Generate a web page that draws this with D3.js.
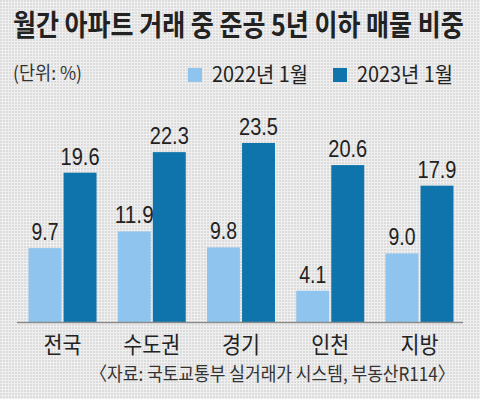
<!DOCTYPE html>
<html>
<head>
<meta charset="utf-8">
<script src="https://cdn.jsdelivr.net/npm/d3@7"></script>
<style>
  html, body { margin: 0; padding: 0; background: #ebebeb; }
  svg { display: block; }
</style>
</head>
<body>
<svg class="chart"></svg>
<script>
var width = 480,
    height = 399;

// data
var categories = ["전국", "수도권", "경기", "인천", "지방"];
var seriesNames = ["2022년 1월", "2023년 1월"];
var values2022 = [9.7, 11.9, 9.8, 4.1, 9.0];
var values2023 = [19.6, 22.3, 23.5, 20.6, 17.9];
var colors = ["#8fc4ee", "#0f74ab"];

var rows = categories.map(function (c, i) {
    return { name: c, vals: [values2022[i], values2023[i]] };
});

var svg = d3.select(".chart")
    .attr("width", width)
    .attr("height", height);

// squeeze a text horizontally to a given width, around its x
function fitWidth(sel, w) {
    sel.each(function (d) {
        var target = typeof w === "function" ? w(d) : w;
        var natural = this.getComputedTextLength();
        var x = +this.getAttribute("x");
        var s = target / natural;
        d3.select(this).attr("transform",
            "translate(" + x + ",0) scale(" + s + ",1) translate(" + (-x) + ",0)");
    });
}

// dotted paper background
var defs = svg.append("defs");
var pat = defs.append("pattern")
    .attr("id", "dots")
    .attr("width", 3)
    .attr("height", 3)
    .attr("patternUnits", "userSpaceOnUse");
pat.append("rect").attr("width", 3).attr("height", 3).attr("fill", "#efefef");
pat.append("rect").attr("width", 2).attr("height", 2).attr("fill", "#dcdcdc");

svg.append("rect")
    .attr("width", width)
    .attr("height", height)
    .attr("fill", "url(#dots)");

var baseY = 322;

var x0 = d3.scaleBand()
    .domain(categories)
    .range([18, 464])
    .paddingInner(0.238)
    .paddingOuter(0.118);

var x1 = d3.scaleBand()
    .domain([0, 1])
    .range([0, x0.bandwidth()])
    .paddingInner(0.06);

var y = d3.scaleLinear()
    .domain([0, 23.5])
    .range([baseY, 143]);

// title
svg.append("text")
    .attr("x", 13)
    .attr("y", 36)
    .attr("font-family", "Noto Sans CJK KR")
    .attr("font-weight", "bold")
    .attr("font-size", 29)
    .attr("fill", "#222")
    .text("월간 아파트 거래 중 준공 5년 이하 매물 비중")
    .call(fitWidth, 451);

// unit
svg.append("text")
    .attr("x", 13)
    .attr("y", 80)
    .attr("font-family", "Noto Sans CJK KR")
    .attr("font-size", 19)
    .attr("fill", "#333")
    .text("(단위: %)")
    .call(fitWidth, 69);

// legend
var legendX = [188, 333];
var legend = svg.selectAll(".legend")
    .data(seriesNames)
    .enter()
    .append("g")
    .attr("class", "legend")
    .attr("transform", function (d, i) {
        return "translate(" + legendX[i] + ",68)";
    });

legend.append("rect")
    .attr("width", 14)
    .attr("height", 14)
    .attr("fill", function (d, i) { return colors[i]; });

legend.append("text")
    .attr("x", 24)
    .attr("y", 14)
    .attr("font-family", "Noto Sans CJK KR")
    .attr("font-size", 21)
    .attr("fill", "#222")
    .text(function (d) { return d; })
    .call(fitWidth, 96);

// bars
var groups = svg.selectAll(".group")
    .data(rows)
    .enter()
    .append("g")
    .attr("class", "group")
    .attr("transform", function (d) {
        return "translate(" + x0(d.name) + ",0)";
    });

groups.selectAll("rect")
    .data(function (d) { return d.vals; })
    .enter()
    .append("rect")
    .attr("x", function (d, i) { return x1(i); })
    .attr("width", x1.bandwidth())
    .attr("y", function (d) { return y(d); })
    .attr("height", function (d) { return baseY - y(d); })
    .attr("fill", function (d, i) { return colors[i]; });

groups.selectAll(".val")
    .data(function (d) { return d.vals; })
    .enter()
    .append("text")
    .attr("class", "val")
    .attr("x", function (d, i) { return x1(i) + x1.bandwidth() / 2; })
    .attr("y", function (d) { return y(d) - 8; })
    .attr("text-anchor", "middle")
    .attr("font-family", "Liberation Sans")
    .attr("font-size", 23)
    .attr("fill", "#222")
    .text(function (d) { return d.toFixed(1); })
    .call(fitWidth, function (d) { return (d.toFixed(1).length - 1) * 12 + 3; });

// axis line
svg.append("line")
    .attr("x1", 17)
    .attr("x2", 463)
    .attr("y1", baseY + 0.5)
    .attr("y2", baseY + 0.5)
    .attr("stroke", "#8a8a8a")
    .attr("stroke-width", 1.5);

// category labels
svg.selectAll(".cat")
    .data(categories)
    .enter()
    .append("text")
    .attr("class", "cat")
    .attr("x", function (d) { return x0(d) + x0.bandwidth() / 2; })
    .attr("y", 353)
    .attr("text-anchor", "middle")
    .attr("font-family", "Noto Sans CJK KR")
    .attr("font-size", 23)
    .attr("fill", "#222")
    .text(function (d) { return d; })
    .call(fitWidth, function (d) { return d.length * 19; });

// source
svg.append("text")
    .attr("x", 90)
    .attr("y", 381)
    .attr("font-family", "Noto Sans CJK KR")
    .attr("font-size", 19)
    .attr("fill", "#333")
    .text("〈자료: 국토교통부 실거래가 시스템, 부동산R114〉")
    .call(fitWidth, 365);
</script>
</body>
</html>
